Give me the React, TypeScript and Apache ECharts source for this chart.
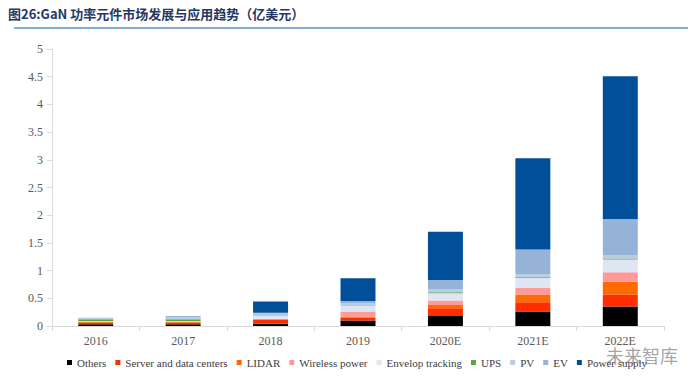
import React, { useEffect, useRef } from "react";
import * as echarts from "echarts";

const categories = ["2016", "2017", "2018", "2019", "2020E", "2021E", "2022E"];
const seriesNames = [
  "Others",
  "Server and data centers",
  "LIDAR",
  "Wireless power",
  "Envelop tracking",
  "UPS",
  "PV",
  "EV",
  "Power supply",
];
const others = [0.03, 0.03, 0.04, 0.1, 0.18, 0.26, 0.35];
const server = [0.03, 0.03, 0.07, 0.05, 0.14, 0.17, 0.22];
const lidar = [0.02, 0.02, 0.01, 0.02, 0.06, 0.14, 0.23];
const wireless = [0.0, 0.0, 0.01, 0.09, 0.08, 0.12, 0.17];
const envelop = [0.01, 0.01, 0.05, 0.1, 0.13, 0.18, 0.23];
const ups = [0.03, 0.03, 0.01, 0.01, 0.02, 0.02, 0.02];
const pv = [0.02, 0.04, 0.03, 0.04, 0.06, 0.04, 0.06];
const ev = [0.01, 0.02, 0.02, 0.04, 0.16, 0.45, 0.65];
const powerSupply = [0.0, 0.0, 0.2, 0.41, 0.87, 1.65, 2.58];
const yTicks = [0, 0.5, 1, 1.5, 2, 2.5, 3, 3.5, 4, 4.5, 5];

const seriesData = [others, server, lidar, wireless, envelop, ups, pv, ev, powerSupply];
const colors = [
  "#000000",
  "#ff2d00",
  "#ff6a00",
  "#ff9a9a",
  "#dde6f2",
  "#5aa83c",
  "#b9cde6",
  "#95b3d7",
  "#004f98",
];

export default function App() {
  const ref = useRef<HTMLDivElement>(null);
  useEffect(() => {
    if (!ref.current) return;
    const chart = echarts.init(ref.current, undefined, { renderer: "svg" });
    const serif = "'Liberation Serif', 'Times New Roman', serif";
    chart.setOption({
      animation: false,
      backgroundColor: "#ffffff",
      textStyle: { fontFamily: serif },
      graphic: [
        {
          type: "text",
          left: 8,
          top: 7,
          style: {
            text: "图26:GaN 功率元件市场发展与应用趋势（亿美元）",
            font: "bold 13px 'Noto Sans CJK SC', serif",
            fill: "#1f3864",
          },
        },
        {
          type: "line",
          shape: { x1: 14, y1: 28, x2: 688, y2: 28 },
          style: { stroke: "#5b8fc9", lineWidth: 1.5 },
        },
        {
          type: "text",
          left: 606,
          top: 346,
          style: {
            text: "未来智库",
            font: "18px 'Noto Sans CJK SC', sans-serif",
            fill: "#8c8c8c",
            opacity: 0.8,
          },
        },
      ],
      grid: { left: 52, right: 36, top: 49, bottom: 62, containLabel: false },
      legend: {
        bottom: 15,
        left: 62,
        itemWidth: 5,
        itemHeight: 5,
        itemGap: 9,
        icon: "rect",
        textStyle: { fontFamily: serif, fontSize: 11, color: "#404040" },
        data: seriesNames,
      },
      xAxis: {
        type: "category",
        data: categories,
        axisLine: { lineStyle: { color: "#d9d9d9" } },
        axisTick: { show: true, lineStyle: { color: "#d9d9d9" }, length: 5 },
        axisLabel: { fontFamily: serif, fontSize: 12, color: "#595959", margin: 9 },
      },
      yAxis: {
        type: "value",
        min: 0,
        max: 5,
        interval: 0.5,
        axisLine: { show: true, lineStyle: { color: "#d9d9d9" } },
        axisTick: { show: true, lineStyle: { color: "#d9d9d9" }, length: 5 },
        splitLine: { show: false },
        axisLabel: {
          fontFamily: serif,
          fontSize: 12,
          color: "#595959",
          margin: 9,
          formatter: (v: number) => (yTicks.includes(v) ? String(v) : ""),
        },
      },
      series: seriesNames.map((name, i) => ({
        name,
        type: "bar",
        stack: "total",
        barWidth: "40%",
        data: seriesData[i],
        itemStyle: { color: colors[i] },
      })),
    });
    return () => chart.dispose();
  }, []);
  return <div ref={ref} style={{ width: 700, height: 388, position: "absolute", left: 0, top: 0 }} />;
}
